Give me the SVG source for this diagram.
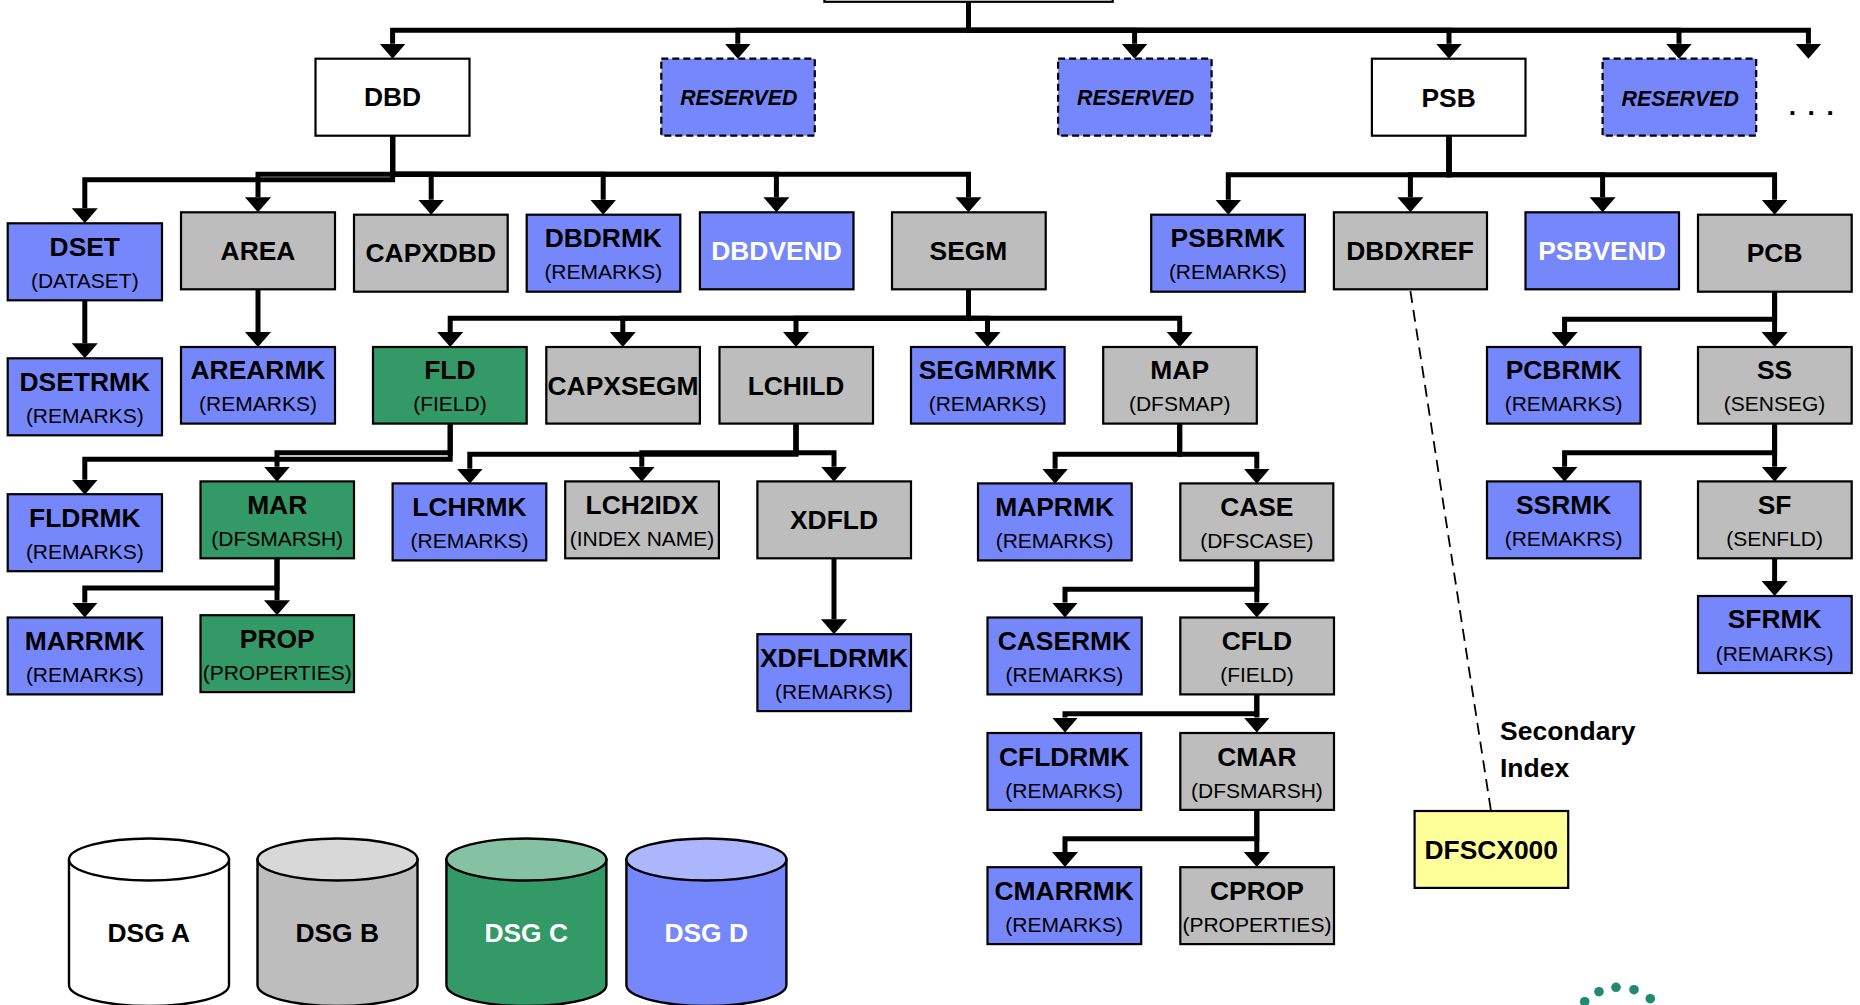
<svg xmlns="http://www.w3.org/2000/svg" width="1860" height="1005" viewBox="0 0 1860 1005">
<style>
text{font-family:"Liberation Sans",Arial,sans-serif;text-anchor:middle;fill:#000}
.t{font-size:26.4px;font-weight:700}
.s{font-size:21px}
.r{font-size:21.3px;font-weight:700;font-style:italic}
.l{font-size:26.5px;font-weight:700;text-anchor:start}
.o{fill:#fff}
rect{stroke:#000;stroke-width:2.2}
.b{fill:#7687fb}.g{fill:#bdbdbd}.n{fill:#339966}.w{fill:#fff}.y{fill:#ffff99}
.d{stroke-dasharray:7 4;stroke-width:2.2}
#connectors path{fill:none;stroke:#000;stroke-width:5;stroke-linejoin:miter;marker-end:url(#a)}
#connectors path.x{stroke-width:1.8;stroke-dasharray:12 7;marker-end:none}
.c{stroke:#000;stroke-width:2.4}
</style>
<defs>
<marker id="a" markerUnits="userSpaceOnUse" markerWidth="16" markerHeight="28" refX="0" refY="14" orient="auto"><path d="M0 1L15 14L0 27Z" fill="#000"/></marker>
</defs>
<g id="connectors">
<path d="M968.5 2V30.3H392.6V43.7"/>
<path d="M968.5 2V30.3H737.8V43.7"/>
<path d="M968.5 2V30.3H1134.6V43.7"/>
<path d="M968.5 2V30.3H1449V43.7"/>
<path d="M968.5 2V30.3H1679V43.7"/>
<path d="M968.5 2V30.3H1808.4V43.7"/>
<path d="M392.6 136V179.7H84.8V208.3"/>
<path d="M392.6 136V174.3H258V197.3"/>
<path d="M392.6 136V174.3H431.2V199.7"/>
<path d="M392.6 136V174.3H603.2V199.7"/>
<path d="M392.6 136V174.3H776.4V197.3"/>
<path d="M392.6 136V174.3H968.5V197.3"/>
<path d="M1449 136V174.7H1228.3V199.7"/>
<path d="M1449 136V174.7H1410.4V197.3"/>
<path d="M1449 136V174.7H1602.6V197.3"/>
<path d="M1449 136V174.7H1774.6V199.7"/>
<path d="M84.8 300.7V343.3"/>
<path d="M258 289.7V332"/>
<path d="M968.5 289.7V318.3H450.2V332"/>
<path d="M968.5 289.7V318.3H622.8V332"/>
<path d="M968.5 289.7V318.3H796V332"/>
<path d="M968.5 289.7V318.3H987.5V332"/>
<path d="M968.5 289.7V318.3H1179.7V332"/>
<path d="M1774.6 291.7V319.3H1564.6V332"/>
<path d="M1774.6 291.7V332"/>
<path d="M450.2 424.3V459.3H84.8V479.7"/>
<path d="M450.2 424.3V452.7H277V466.7"/>
<path d="M796 424.3V454.3H469.8V468.7"/>
<path d="M796 424.3V452.7H641.8V466.7"/>
<path d="M796 424.3V452.7H834V466.7"/>
<path d="M1179.7 424.3V454.3H1055.1V468.7"/>
<path d="M1179.7 424.3V454.3H1256.8V468.7"/>
<path d="M1774.6 424.3V452.7H1564.6V466.7"/>
<path d="M1774.6 424.3V466.7"/>
<path d="M1774.6 558.7V581"/>
<path d="M277 558.7V588H84.8V602.5"/>
<path d="M277 558.7V600.2"/>
<path d="M834 558.7V619.2"/>
<path d="M1256.8 561V589.3H1065V602.5"/>
<path d="M1256.8 561V602.5"/>
<path d="M1256.8 695V713.7H1065V717.5"/>
<path d="M1256.8 695V717.5"/>
<path d="M1256.8 810.7V838.8H1065V852"/>
<path d="M1256.8 810.7V852"/>
<path class="x" d="M1410.4 291L1491 811"/>
</g>
<g id="root"><rect class="w" x="824.4" y="-76" width="288.3" height="77.8"/></g>
<g id="DBD"><rect class="w" x="315.5" y="58.7" width="154" height="77"/><text class="t" x="392.6" y="106.4">DBD</text></g>
<g id="RESERVED1"><rect class="b d" x="661.3" y="58.7" width="153.5" height="77"/><text class="r" x="738.8" y="105">RESERVED</text></g>
<g id="RESERVED2"><rect class="b d" x="1058.1" y="58.7" width="153.5" height="77"/><text class="r" x="1135.6" y="105">RESERVED</text></g>
<g id="PSB"><rect class="w" x="1371.9" y="58.7" width="153.6" height="77"/><text class="t" x="1448.6" y="107.4">PSB</text></g>
<g id="RESERVED3"><rect class="b d" x="1602.6" y="58.7" width="153.6" height="77"/><text class="r" x="1680.2" y="106">RESERVED</text></g>
<g id="more"><text class="t" x="1817" y="115" style="letter-spacing:11.5px">...</text></g>
<g id="DSET"><rect class="b" x="7.7" y="223.3" width="154.3" height="77"/><text class="t" x="84.8" y="255.9">DSET</text><text class="s" x="84.8" y="287.9">(DATASET)</text></g>
<g id="AREA"><rect class="g" x="181" y="212.3" width="154" height="77"/><text class="t" x="258" y="259.7">AREA</text></g>
<g id="CAPXDBD"><rect class="g" x="354" y="214.7" width="153.7" height="77"/><text class="t" x="430.8" y="262">CAPXDBD</text></g>
<g id="DBDRMK"><rect class="b" x="526.7" y="214.7" width="153.6" height="77"/><text class="t" x="603.3" y="246.9">DBDRMK</text><text class="s" x="603.3" y="279.4">(REMARKS)</text></g>
<g id="DBDVEND"><rect class="b" x="699.9" y="212.3" width="153.6" height="77"/><text class="t o" x="776.5" y="259.7">DBDVEND</text></g>
<g id="SEGM"><rect class="g" x="892" y="212.3" width="153.7" height="77"/><text class="t" x="968.4" y="259.7">SEGM</text></g>
<g id="PSBRMK"><rect class="b" x="1151.2" y="214.7" width="153.7" height="77"/><text class="t" x="1227.8" y="246.9">PSBRMK</text><text class="s" x="1227.8" y="279.4">(REMARKS)</text></g>
<g id="DBDXREF"><rect class="g" x="1333.9" y="212.3" width="153.1" height="77"/><text class="t" x="1410" y="259.7">DBDXREF</text></g>
<g id="PSBVEND"><rect class="b" x="1525.5" y="212.3" width="153.5" height="77"/><text class="t o" x="1602" y="259.7">PSBVEND</text></g>
<g id="PCB"><rect class="g" x="1698" y="214.7" width="153.7" height="77"/><text class="t" x="1774.6" y="262.2">PCB</text></g>
<g id="DSETRMK"><rect class="b" x="7.7" y="358.3" width="154.3" height="77"/><text class="t" x="84.8" y="390.5">DSETRMK</text><text class="s" x="84.8" y="422.8">(REMARKS)</text></g>
<g id="AREARMK"><rect class="b" x="181" y="347" width="154" height="76.6"/><text class="t" x="258" y="379.2">AREARMK</text><text class="s" x="258" y="411.4">(REMARKS)</text></g>
<g id="FLD"><rect class="n" x="373" y="347" width="153.7" height="76.6"/><text class="t" x="449.9" y="379.2">FLD</text><text class="s" x="449.9" y="411.4">(FIELD)</text></g>
<g id="CAPXSEGM"><rect class="g" x="546.3" y="347" width="153.6" height="76.6"/><text class="t" x="623.1" y="394.6">CAPXSEGM</text></g>
<g id="LCHILD"><rect class="g" x="719.5" y="347" width="153.5" height="76.6"/><text class="t" x="796" y="394.6">LCHILD</text></g>
<g id="SEGMRMK"><rect class="b" x="911" y="347" width="153.6" height="76.6"/><text class="t" x="987.6" y="379.2">SEGMRMK</text><text class="s" x="987.6" y="411.4">(REMARKS)</text></g>
<g id="MAP"><rect class="g" x="1103.2" y="347" width="153.6" height="76.6"/><text class="t" x="1179.7" y="379.2">MAP</text><text class="s" x="1179.7" y="411.4">(DFSMAP)</text></g>
<g id="PCBRMK"><rect class="b" x="1487" y="347" width="153.5" height="76.6"/><text class="t" x="1563.6" y="379.2">PCBRMK</text><text class="s" x="1563.6" y="411.4">(REMARKS)</text></g>
<g id="SS"><rect class="g" x="1698" y="347" width="153.7" height="76.6"/><text class="t" x="1774.6" y="379.2">SS</text><text class="s" x="1774.6" y="411.4">(SENSEG)</text></g>
<g id="FLDRMK"><rect class="b" x="7.7" y="494.2" width="154.3" height="77"/><text class="t" x="84.8" y="526.8">FLDRMK</text><text class="s" x="84.8" y="559">(REMARKS)</text></g>
<g id="MAR"><rect class="n" x="200.5" y="481.4" width="153.5" height="76.9"/><text class="t" x="277.2" y="513.8">MAR</text><text class="s" x="277.2" y="546">(DFSMARSH)</text></g>
<g id="LCHRMK"><rect class="b" x="392.6" y="483.4" width="153.7" height="77"/><text class="t" x="469.5" y="515.8">LCHRMK</text><text class="s" x="469.5" y="548">(REMARKS)</text></g>
<g id="LCH2IDX"><rect class="g" x="565.2" y="481.4" width="153.7" height="76.9"/><text class="t" x="642" y="513.8">LCH2IDX</text><text class="s" x="642" y="546">(INDEX NAME)</text></g>
<g id="XDFLD"><rect class="g" x="757.4" y="481.4" width="153.6" height="76.9"/><text class="t" x="834" y="529">XDFLD</text></g>
<g id="MAPRMK"><rect class="b" x="978" y="483.4" width="153.7" height="77"/><text class="t" x="1054.6" y="515.8">MAPRMK</text><text class="s" x="1054.6" y="548">(REMARKS)</text></g>
<g id="CASE"><rect class="g" x="1180.3" y="483.4" width="153" height="77"/><text class="t" x="1256.8" y="515.8">CASE</text><text class="s" x="1256.8" y="548">(DFSCASE)</text></g>
<g id="SSRMK"><rect class="b" x="1487" y="481.4" width="153.5" height="76.9"/><text class="t" x="1563.6" y="513.8">SSRMK</text><text class="s" x="1563.6" y="546">(REMAKRS)</text></g>
<g id="SF"><rect class="g" x="1698" y="481.4" width="153.7" height="76.9"/><text class="t" x="1774.6" y="513.8">SF</text><text class="s" x="1774.6" y="546">(SENFLD)</text></g>
<g id="SFRMK"><rect class="b" x="1698" y="596" width="153.7" height="77"/><text class="t" x="1774.6" y="628.4">SFRMK</text><text class="s" x="1774.6" y="660.6">(REMARKS)</text></g>
<g id="MARRMK"><rect class="b" x="7.7" y="617.5" width="154.3" height="76.9"/><text class="t" x="84.8" y="650">MARRMK</text><text class="s" x="84.8" y="682.4">(REMARKS)</text></g>
<g id="PROP"><rect class="n" x="200.5" y="615.2" width="153.5" height="76.9"/><text class="t" x="277.2" y="647.8">PROP</text><text class="s" x="277.2" y="680">(PROPERTIES)</text></g>
<g id="XDFLDRMK"><rect class="b" x="757.4" y="634.2" width="153.6" height="76.9"/><text class="t" x="834" y="666.8">XDFLDRMK</text><text class="s" x="834" y="699">(REMARKS)</text></g>
<g id="CASERMK"><rect class="b" x="987.5" y="617.5" width="154.2" height="76.9"/><text class="t" x="1064.4" y="650">CASERMK</text><text class="s" x="1064.4" y="682.4">(REMARKS)</text></g>
<g id="CFLD"><rect class="g" x="1180.3" y="617.5" width="153.7" height="76.9"/><text class="t" x="1256.9" y="650">CFLD</text><text class="s" x="1256.9" y="682.4">(FIELD)</text></g>
<g id="CFLDRMK"><rect class="b" x="987.5" y="733" width="153.7" height="76.9"/><text class="t" x="1064.2" y="766">CFLDRMK</text><text class="s" x="1064.2" y="798">(REMARKS)</text></g>
<g id="CMAR"><rect class="g" x="1180.3" y="733" width="153.7" height="76.9"/><text class="t" x="1256.9" y="766">CMAR</text><text class="s" x="1256.9" y="798">(DFSMARSH)</text></g>
<g id="CMARRMK"><rect class="b" x="987.5" y="867.2" width="153.7" height="76.9"/><text class="t" x="1064.2" y="899.8">CMARRMK</text><text class="s" x="1064.2" y="931.6">(REMARKS)</text></g>
<g id="CPROP"><rect class="g" x="1180.3" y="867.2" width="153.7" height="76.9"/><text class="t" x="1256.9" y="899.8">CPROP</text><text class="s" x="1256.9" y="931.6">(PROPERTIES)</text></g>
<g id="DFSCX000"><rect class="y" x="1414.6" y="811" width="153.6" height="76.9"/><text class="t" x="1491.2" y="859">DFSCX000</text></g>
<g id="secondary-index"><text class="l" x="1500" y="740">Secondary</text><text class="l" x="1500" y="776.8">Index</text></g>
<g id="DSG-A"><path class="c w" d="M69 859.5V985A80 21 0 0 0 229 985V859.5Z"/><ellipse class="c" cx="149" cy="859.5" rx="80" ry="21" fill="#fff"/><text class="t" x="148.8" y="942.3">DSG A</text></g>
<g id="DSG-B"><path class="c g" d="M257.5 859.5V985A80 21 0 0 0 417.5 985V859.5Z"/><ellipse class="c" cx="337.5" cy="859.5" rx="80" ry="21" fill="#d8d8d8"/><text class="t" x="337.2" y="942.3">DSG B</text></g>
<g id="DSG-C"><path class="c n" d="M446.4 859.5V985A80 21 0 0 0 606.4 985V859.5Z"/><ellipse class="c" cx="526.4" cy="859.5" rx="80" ry="21" fill="#85c1a3"/><text class="t o" x="526.2" y="942.3">DSG C</text></g>
<g id="DSG-D"><path class="c b" d="M626.4 859.5V985A80 21 0 0 0 786.4 985V859.5Z"/><ellipse class="c" cx="706.4" cy="859.5" rx="80" ry="21" fill="#abb6fd"/><text class="t o" x="706.2" y="942.3">DSG D</text></g>
<g id="logo-dots" fill="#1f8a70"><circle cx="1584.7" cy="1001.7" r="4.8"/><circle cx="1599" cy="991.7" r="4.8"/><circle cx="1616" cy="987.3" r="4.8"/><circle cx="1634" cy="989.7" r="4.8"/><circle cx="1650.3" cy="998.7" r="4.8"/></g>
</svg>
